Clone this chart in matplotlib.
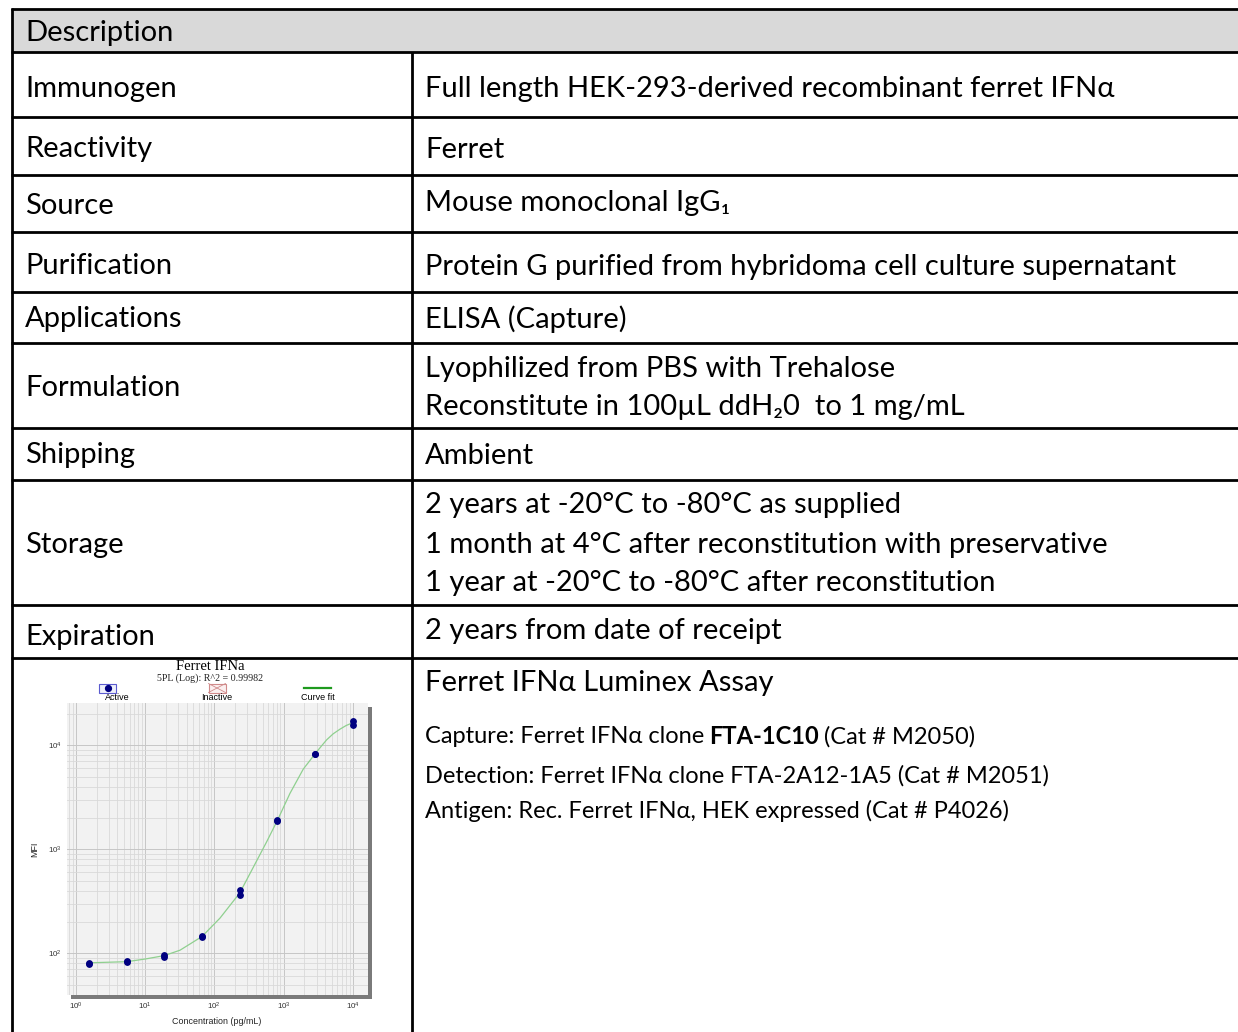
import matplotlib.pyplot as plt
from matplotlib.patches import Rectangle

W, H = 1238, 1032

# table content
header = "Description"
row_labels = ["Immunogen", "Reactivity", "Source", "Purification", "Applications",
              "Formulation", "Shipping", "Storage", "Expiration"]
row_values = [
    ["Full length HEK-293-derived recombinant ferret IFNα"],
    ["Ferret"],
    ["Mouse monoclonal IgG₁"],
    ["Protein G purified from hybridoma cell culture supernatant"],
    ["ELISA (Capture)"],
    ["Lyophilized from PBS with Trehalose", "Reconstitute in 100µL ddH₂0  to 1 mg/mL"],
    ["Ambient"],
    ["2 years at -20°C to -80°C as supplied",
     "1 month at 4°C after reconstitution with preservative",
     "1 year at -20°C to -80°C after reconstitution"],
    ["2 years from date of receipt"],
]
assay_title = "Ferret IFNα Luminex Assay"
assay_lines = [
    ("Capture: Ferret IFNα clone ", "FTA-1C10", " (Cat # M2050)"),
    ("Detection: Ferret IFNα clone FTA-2A12-1A5 (Cat # M2051)", "", ""),
    ("Antigen: Rec. Ferret IFNα, HEK expressed (Cat # P4026)", "", ""),
]

# standard curve
conc = [1.55, 5.44, 19.0, 66.6, 233, 816, 2857, 10000]
mfi_rep1 = [80, 84, 96, 146, 402, 1920, 8300, 17200]
mfi_rep2 = [79, 83, 93, 144, 365, 1870, 8250, 15600]
fit_conc = [1.55, 5.44, 10, 19.0, 32, 66.6, 121, 233, 365, 570, 816, 1237, 1923, 2857,
            3500, 4190, 5200, 6520, 8000, 10000, 10700]
fit_mfi = [81, 83, 88, 95, 107, 145, 218, 380, 670, 1180, 1900, 3450, 5900, 8300,
           9800, 11300, 12900, 14300, 15500, 16500, 16800]

# layout (pixels)
row_edges = [52, 117, 175, 232, 292, 343, 428, 480, 605, 658]
label_y = [86, 147, 203, 264, 317, 385, 453, 542, 634]
value_y = [[86], [147], [200], [264], [317], [366, 405], [453], [503, 542, 581], [629]]
dy = 2.5

FAM = ['Lato', 'DejaVu Sans']
BIG = 21
SMALL = 17

fig = plt.figure(figsize=(W / 100, H / 100), dpi=100)
ax = fig.add_axes([0, 0, 1, 1])
ax.set_xlim(0, W)
ax.set_ylim(H, 0)
ax.axis('off')

lw = 2.0
ax.add_patch(Rectangle((12, 8.5), W, 43.5, fc='#d9d9d9', ec='none'))
for y in [8.5] + row_edges:
    ax.plot([11, W], [y, y], color='black', lw=lw, solid_capstyle='butt')
ax.plot([12, 12], [7.5, H], color='black', lw=lw, solid_capstyle='butt')
ax.plot([412, 412], [52, H], color='black', lw=lw, solid_capstyle='butt')

ax.text(25, 30 + dy, header, fontsize=BIG, family=FAM, va='center')
for lab, ly, vals, vys in zip(row_labels, label_y, row_values, value_y):
    ax.text(25, ly + dy, lab, fontsize=BIG, family=FAM, va='center')
    for v, vy in zip(vals, vys):
        ax.text(425, vy + dy, v, fontsize=BIG, family=FAM, va='center')

ax.text(425, 680 + dy, assay_title, fontsize=BIG, family=FAM, va='center')
fig.canvas.draw()
r = fig.canvas.get_renderer()
for (a, b, c), y in zip(assay_lines, [734, 773, 808]):
    t = ax.text(425, y + dy, a.rstrip(), fontsize=SMALL, family=FAM, va='center')
    if b:
        x = t.get_window_extent(r).x1 + 5
        t2 = ax.text(x, y + dy, b, fontsize=SMALL, family=FAM, weight='bold', va='center')
        x = t2.get_window_extent(r).x1 + 5
        ax.text(x, y + dy, c.strip(), fontsize=SMALL, family=FAM, va='center')

# chart title and legend
ax.text(210, 666, "Ferret IFNa", fontsize=10.5, family='Liberation Serif', ha='center', va='center')
ax.text(210, 678.5, "5PL (Log): R^2 = 0.99982", fontsize=7.2, family='Liberation Serif',
        ha='center', va='center', color='#222222')
ax.add_patch(Rectangle((99, 683.5), 17, 9, fc='#eef0fb', ec='#5a5acf', lw=0.8))
ax.plot([107.5], [688], 'o', color='#000080', ms=4.2)
ax.text(117, 697.5, "Active", fontsize=6.5, family='Liberation Sans', ha='center', va='center')
ax.add_patch(Rectangle((208.5, 683.5), 17, 9, fc='#fbefef', ec='#d08a8a', lw=0.8))
ax.plot([208.5, 225.5], [683.5, 692.5], color='#d08a8a', lw=0.6)
ax.plot([208.5, 225.5], [692.5, 683.5], color='#d08a8a', lw=0.6)
ax.text(217, 697.5, "Inactive", fontsize=6.5, family='Liberation Sans', ha='center', va='center')
ax.plot([304, 331], [687.5, 687.5], color='#1e9a1e', lw=1.6)
ax.text(317.5, 697.5, "Curve fit", fontsize=6.5, family='Liberation Sans', ha='center', va='center')

# shadow behind plot area
ax.add_patch(Rectangle((70.5, 706.5), 301, 292, fc='#7a7a7a', ec='none'))

cx0, cx1, cy0, cy1 = 67.3, 368.3, 703.3, 995
ca = fig.add_axes([cx0 / W, (H - cy1) / H, (cx1 - cx0) / W, (cy1 - cy0) / H])
ca.set_zorder(2)
ca.set_facecolor('#f2f2f2')
ca.set_xscale('log')
ca.set_yscale('log')
ca.set_xlim(0.757, 16700)
ca.set_ylim(39.7, 25350)
ca.grid(True, which='major', color='#c6c6c6', lw=0.7)
ca.grid(True, which='minor', color='#d9d9d9', lw=0.6)
ca.set_axisbelow(True)
for s in ca.spines.values():
    s.set_visible(False)
ca.tick_params(which='both', length=0, labelsize=5.8, labelcolor='#333333', pad=4)
for lab in ca.get_xticklabels() + ca.get_yticklabels():
    lab.set_family('Liberation Sans')

ca.plot(fit_conc, fit_mfi, color='#8fd08f', lw=0.9, zorder=2)
ca.plot(conc, mfi_rep1, 'o', color='#000080', ms=3.9, zorder=3)
ca.plot(conc, mfi_rep2, 'o', color='#000080', ms=3.9, zorder=3)

ca.set_xlabel("Concentration (pg/mL)", fontsize=6.4, family='Liberation Sans', color='#222222')
ca.set_ylabel("MFI", fontsize=6.4, family='Liberation Sans', color='#222222')
ca.xaxis.set_label_coords(0.497, -0.074)
ca.yaxis.set_label_coords(-0.093, 0.5)

fig.savefig('out.png', dpi=100)
